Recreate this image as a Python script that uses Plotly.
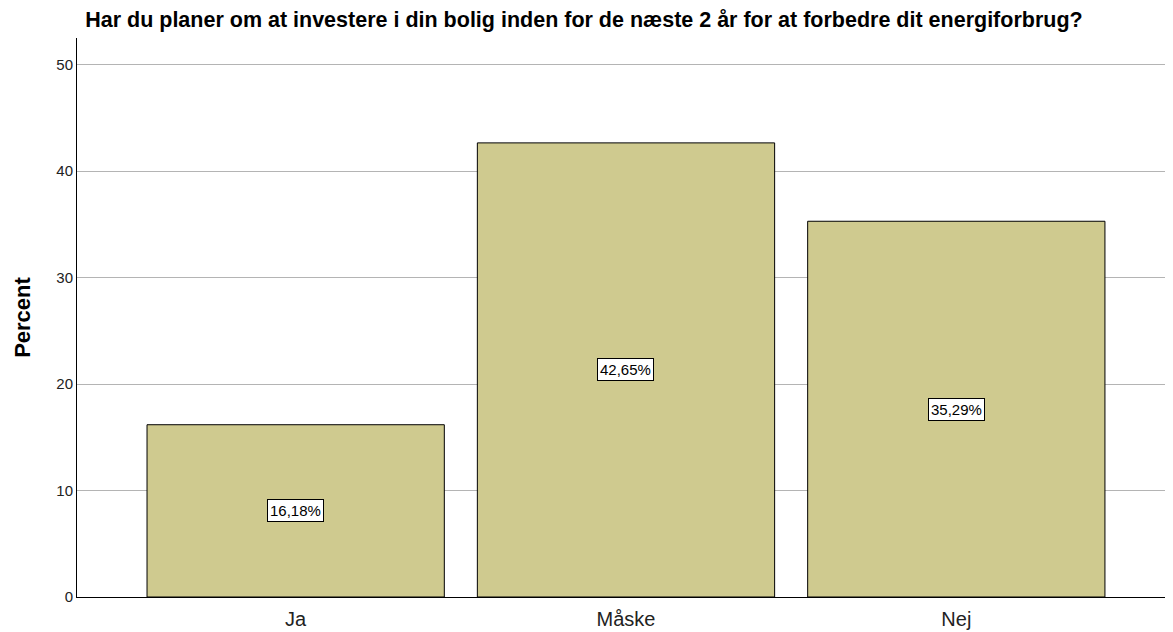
import plotly.graph_objects as go

categories = ["Ja", "Måske", "Nej"]
percent = [16.18, 42.65, 35.29]
labels = ["16,18%", "42,65%", "35,29%"]
title = "Har du planer om at investere i din bolig inden for de næste 2 år for at forbedre dit energiforbrug?"

FONT = "Liberation Sans, Arial, sans-serif"

fig = go.Figure()
fig.add_trace(go.Bar(
    x=categories, y=percent, width=0.9,
    marker=dict(color="#cfca8f", line=dict(color="#000000", width=1)),
    hoverinfo="skip",
))

for c, v, t in zip(categories, percent, labels):
    fig.add_annotation(
        x=c, y=v / 2, text=t, showarrow=False,
        font=dict(family=FONT, size=15, color="#000000"),
        bgcolor="#ffffff", bordercolor="#000000", borderwidth=1, borderpad=2,
    )

fig.update_layout(
    width=1173, height=632,
    margin=dict(l=69, r=8, t=30, b=43),
    paper_bgcolor="#ffffff", plot_bgcolor="#ffffff",
    showlegend=False,
    font=dict(family=FONT, color="#000000"),
    title=dict(text=title, x=0.491, xanchor="center", y=0.994, yanchor="top",
               font=dict(family=FONT, size=21.5, color="#000000", weight="bold")),
    bargap=0.1,
)
fig.update_xaxes(
    type="category", range=[-0.662, 2.656],
    showline=True, linecolor="#000000", linewidth=1,
    showgrid=False, ticks="", ticklabelstandoff=4,
    tickfont=dict(size=20, color="#222222"),
)
fig.update_yaxes(
    range=[0, 52.5], tickvals=[0, 10, 20, 30, 40, 50],
    showline=True, linecolor="#000000", linewidth=1,
    showgrid=True, gridcolor="#b4b4b4", gridwidth=1, zeroline=False,
    ticks="", tickfont=dict(size=15, color="#222222"),
    title=dict(text="Percent", font=dict(size=22, color="#000000", weight="bold"), standoff=19),
)

fig.write_html("out.html")
